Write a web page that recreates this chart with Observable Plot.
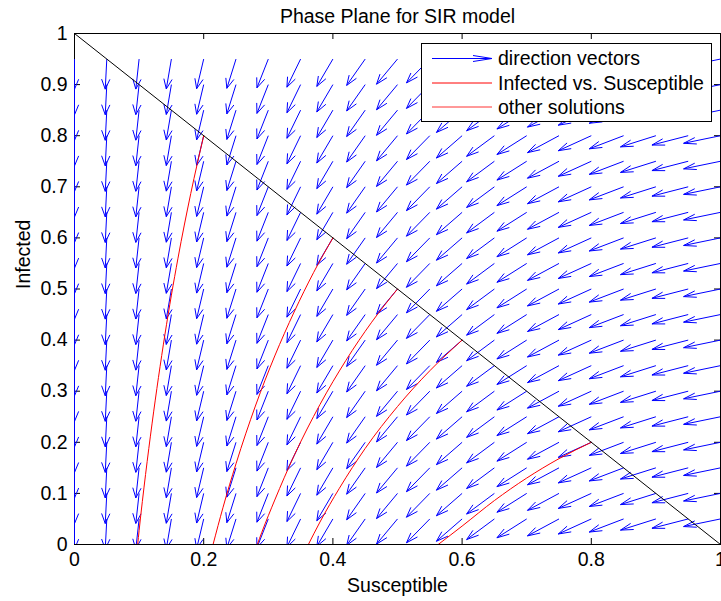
<!DOCTYPE html>
<html><head><meta charset="utf-8">
<script src="https://cdn.jsdelivr.net/npm/d3@7"></script>
<script src="https://cdn.jsdelivr.net/npm/@observablehq/plot@0.6"></script>
<style>body{margin:0;background:#fff}</style>
</head><body><div id="chart"></div>
<script>
// Grid of direction vectors (columns = Susceptible, rows = Infected)
const colS = [0,0.05,0.1,0.15,0.2,0.25,0.3,0.35,0.4,0.45,0.5,0.55,0.6,0.65,0.7,0.75,0.8,0.85,0.9,0.95,1];
const dirU = [0,-0.041,-0.086,-0.134,-0.185,-0.240,-0.298,-0.359,-0.422,-0.486,-0.550,-0.612,-0.673,-0.729,-0.781,-0.827,-0.867,-0.901,-0.929,-0.951,-0.968];
const dirV = [-1,-0.999,-0.996,-0.991,-0.983,-0.971,-0.955,-0.933,-0.907,-0.874,-0.835,-0.791,-0.740,-0.684,-0.625,-0.562,-0.499,-0.435,-0.371,-0.310,-0.252];
const rowI = [0.05,0.1,0.15,0.2,0.25,0.3,0.35,0.4,0.45,0.5,0.55,0.6,0.65,0.7,0.75,0.8,0.85,0.9,0.95];

// Solution curves (Infected vs. Susceptible)
const curveA_S = [0.2,0.18,0.16,0.14,0.12,0.11,0.10,0.0978];
const curveA_I = [0.8,0.687,0.559,0.411,0.236,0.137,0.027,0];
const curveB_S = [0.4,0.37,0.34,0.31,0.28,0.25,0.23,0.2145];
const curveB_I = [0.6,0.532,0.455,0.369,0.271,0.158,0.073,0];
const curveC_S = [0.5,0.46,0.42,0.38,0.34,0.31,0.29,0.283];
const curveC_I = [0.5,0.435,0.360,0.274,0.174,0.087,0.024,0];
const curveD_S = [0.6,0.55,0.5,0.45,0.41,0.38,0.362];
const curveD_I = [0.4,0.340,0.270,0.188,0.110,0.044,0];
const curveE_S = [0.8,0.75,0.7,0.65,0.6,0.563];
const curveE_I = [0.2,0.168,0.130,0.086,0.036,0];

// Line S + I = 1
const diagS = [0,1];
const diagI = [1,0];

const xTicks = [0,0.2,0.4,0.6,0.8,1];
const yTicks = [0,0.1,0.2,0.3,0.4,0.5,0.6,0.7,0.8,0.9,1];

const titleText = "Phase Plane for SIR model";
const xLabel = "Susceptible";
const yLabel = "Infected";
const legendLabels = ["direction vectors","Infected vs. Susceptible","other solutions"];

// Build quiver table (MATLAB-style arrows, in data units)
const L = 0.059, HA = 0.33, HB = 0.33;
const arrows = [];
colS.forEach((s, i) => rowI.forEach(r => {
  const du = L * dirU[i], dv = L * dirV[i];
  const x2 = s + du, y2 = r + dv;
  arrows.push({
    x1: s, y1: r, x2, y2,
    hx1: x2 - HA * (du + HB * dv), hy1: y2 - HA * (dv - HB * du),
    hx2: x2 - HA * (du - HB * dv), hy2: y2 - HA * (dv + HB * du)
  });
}));

const curves = [];
[[curveA_S, curveA_I, "A"], [curveB_S, curveB_I, "B"], [curveC_S, curveC_I, "C"],
 [curveD_S, curveD_I, "D"], [curveE_S, curveE_I, "E"]].forEach(([S, I, k]) =>
  S.forEach((s, j) => curves.push({S: s, I: I[j], k})));
const diag = diagS.map((s, j) => ({S: s, I: diagI[j]}));

const W = 721, H = 601, mL = 74, mR = 1, mT = 33, mB = 57;
const pw = W - mL - mR, ph = H - mT - mB;
const FONT = "'Liberation Sans', Arial, Helvetica, sans-serif";

const plot = Plot.plot({
  width: W, height: H,
  marginLeft: mL, marginRight: mR, marginTop: mT, marginBottom: mB,
  style: {fontFamily: FONT, fontSize: "19.5px", color: "black", background: "white", overflow: "visible"},
  x: {domain: [0, 1], label: null},
  y: {domain: [0, 1], label: null},
  marks: [
    Plot.frame({stroke: "black", strokeWidth: 1}),
    Plot.tickX(xTicks, {x: d => d, insetTop: ph - 6, stroke: "black"}),
    Plot.tickX(xTicks, {x: d => d, insetBottom: ph - 6, stroke: "black"}),
    Plot.tickY(yTicks, {y: d => d, insetRight: pw - 6, stroke: "black"}),
    Plot.tickY(yTicks, {y: d => d, insetLeft: pw - 6, stroke: "black"}),
    Plot.link(arrows, {x1: "x1", y1: "y1", x2: "x2", y2: "y2", stroke: "#0000ff", strokeWidth: 1, clip: true}),
    Plot.link(arrows, {x1: "x2", y1: "y2", x2: "hx1", y2: "hy1", stroke: "#0000ff", strokeWidth: 1, clip: true}),
    Plot.link(arrows, {x1: "x2", y1: "y2", x2: "hx2", y2: "hy2", stroke: "#0000ff", strokeWidth: 1, clip: true}),
    Plot.line(curves, {x: "S", y: "I", z: "k", stroke: "#ff0000", strokeWidth: 1, curve: "monotone-x", clip: true}),
    Plot.line(diag, {x: "S", y: "I", stroke: "black", strokeWidth: 1}),
    Plot.axisX(xTicks, {tickSize: 0, tickPadding: 8, tickFormat: d => String(d), label: null, fill: "black"}),
    Plot.axisY(yTicks, {tickSize: 0, tickPadding: 7, tickFormat: d => String(d), label: null, fill: "black"}),
    Plot.text([titleText], {frameAnchor: "top", dy: -10.5, lineAnchor: "bottom", fill: "black"}),
    Plot.text([xLabel], {frameAnchor: "bottom", dy: 47, lineAnchor: "bottom", fill: "black"}),
    Plot.text([yLabel], {frameAnchor: "left", dx: -51, rotate: -90, lineAnchor: "middle", fill: "black"})
  ]
});
document.getElementById("chart").appendChild(plot);

// Legend box (top right, inside axes)
const svg = d3.select(plot);
const lg = svg.append("g").attr("font-family", FONT).attr("font-size", "19.5px").attr("text-anchor", "start");
lg.append("rect").attr("x", 421.5).attr("y", 43.5).attr("width", 290).attr("height", 78)
  .attr("fill", "white").attr("stroke", "black").attr("stroke-width", 1);
const rowsY = [58.5, 83, 107];
const sampleColors = ["#0000ff", "#ff0000", "#ff3333"];
rowsY.forEach((y, i) => {
  lg.append("line").attr("x1", 432).attr("x2", 492).attr("y1", y).attr("y2", y)
    .attr("stroke", sampleColors[i]).attr("stroke-width", 1);
  lg.append("text").attr("x", 498).attr("y", y + 6.8).attr("fill", "black")
    .attr("text-anchor", "start").text(legendLabels[i]);
});
lg.append("path").attr("d", `M473,${rowsY[0] - 3}L492,${rowsY[0]}L473,${rowsY[0] + 3}`)
  .attr("fill", "none").attr("stroke", "#0000ff").attr("stroke-width", 1);
</script>
</body></html>
